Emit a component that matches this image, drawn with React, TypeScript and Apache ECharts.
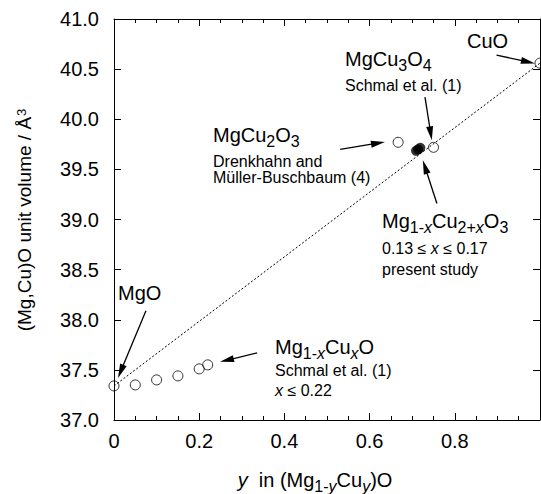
import React, { useEffect, useRef } from "react";
import * as echarts from "echarts";

const FF = "'Liberation Sans', Arial, Helvetica, sans-serif";

// Mg(1-x)Cu(x)O, Schmal et al.
const rockSaltX = [0, 0.05, 0.1, 0.15, 0.2, 0.22];
const rockSaltY = [37.34, 37.35, 37.4, 37.44, 37.51, 37.55];
// other open-circle compounds: MgCu2O3, MgCu3O4, CuO
const openX = [0.667, 0.75, 1.0];
const openY = [39.77, 39.72, 40.56];
// present study, Mg(1-x)Cu(2+x)O3 (filled)
const presentX = [0.709, 0.714, 0.719];
const presentY = [39.685, 39.7, 39.715];
// Vegard's law line
const vegardX = [0, 1];
const vegardY = [37.34, 40.56];
// annotation arrows: tail x, tail y, tip x, tip y
const arrows = [
  [0.898, 40.64, 0.988, 40.557],
  [0.73, 40.22, 0.746, 39.79],
  [0.531, 39.7, 0.636, 39.773],
  [0.758, 39.16, 0.725, 39.59],
  [0.075, 38.09, 0.0094, 37.42],
  [0.336, 37.67, 0.249, 37.58],
];
const xTicks = { min: 0, max: 1, interval: 0.2 };
const yTicks = { min: 37, max: 41, interval: 0.5 };

const base = { verticalAlign: "top", fontFamily: FF, fill: "#000" };
const rich: any = {
  m: { ...base, fontSize: 20, lineHeight: 22 },
  i: { ...base, fontSize: 20, lineHeight: 22, fontStyle: "italic" },
  s: { ...base, fontSize: 16, lineHeight: 16, padding: [8, 0, 0, 0] },
  si: { ...base, fontSize: 16, lineHeight: 16, padding: [8, 0, 0, 0], fontStyle: "italic" },
  t: { ...base, fontSize: 16, lineHeight: 18 },
  ti: { ...base, fontSize: 16, lineHeight: 18, fontStyle: "italic" },
  y: { ...base, fontSize: 19, lineHeight: 21 },
  sup: { ...base, fontSize: 13, lineHeight: 13, padding: [0, 0, 0, 1] },
};

function label(text: string, x: number, y: number, extra: any = {}) {
  return {
    type: "text",
    x,
    y,
    silent: true,
    ...extra,
    style: {
      text,
      rich,
      fontFamily: FF,
      fontSize: 20,
      fill: "#000",
      align: extra.align || "left",
      verticalAlign: extra.verticalAlign || "top",
    },
  };
}

const annotations = [
  label("{m|CuO}", 467, 31),
  label("{m|MgCu}{s|3}{m|O}{s|4}", 345, 49),
  label("{t|Schmal et al. (1)}", 345, 77),
  label("{m|MgCu}{s|2}{m|O}{s|3}", 213, 125),
  label("{t|Drenkhahn and}", 213, 153),
  label("{t|Müller-Buschbaum (4)}", 213, 169),
  label("{m|Mg}{s|1-}{si|x}{m|Cu}{s|2+}{si|x}{m|O}{s|3}", 382, 211),
  label("{t|0.13 ≤ }{ti|x}{t| ≤ 0.17}", 382, 240),
  label("{t|present study}", 382, 261),
  label("{m|MgO}", 118, 283),
  label("{m|Mg}{s|1-}{si|x}{m|Cu}{si|x}{m|O}", 275, 337),
  label("{t|Schmal et al. (1)}", 275, 362),
  label("{ti|x}{t| ≤ 0.22}", 275, 382),
  label("{i|y}{m|  in (Mg}{s|1-}{si|y}{m|Cu}{si|y}{m|)O}", 315, 470, { align: "center" }),
  label("{y|(Mg,Cu)O unit volume / Å}{sup|3}", 25, 220, {
    align: "center",
    verticalAlign: "middle",
    rotation: Math.PI / 2,
  }),
];

const axisLineStyle = { color: "#000", width: 1 };

function xAxis(position: "bottom" | "top", showLabel: boolean) {
  return {
    type: "value",
    position,
    ...xTicks,
    axisLine: { show: true, onZero: false, lineStyle: axisLineStyle },
    axisTick: { show: true, inside: true, length: 7, lineStyle: { color: "#000", width: 1 } },
    minorTick: { show: true, splitNumber: 4, length: 4, lineStyle: { color: "#000", width: 1 } },
    axisLabel: {
      show: showLabel,
      fontSize: 20,
      color: "#000",
      fontFamily: FF,
      margin: 11,
      showMaxLabel: false,
    },
    splitLine: { show: false },
  };
}
function yAxis(position: "left" | "right", showLabel: boolean) {
  return {
    type: "value",
    position,
    ...yTicks,
    axisLine: { show: true, onZero: false, lineStyle: axisLineStyle },
    axisTick: { show: true, inside: true, length: 7, lineStyle: { color: "#000", width: 1 } },
    axisLabel: {
      show: showLabel,
      fontSize: 20,
      color: "#000",
      fontFamily: FF,
      margin: 15,
      formatter: (v: number) => v.toFixed(1),
    },
    splitLine: { show: false },
  };
}

export default function App() {
  const ref = useRef<HTMLDivElement>(null);
  useEffect(() => {
    if (!ref.current) return;
    const chart = echarts.init(ref.current, null, { renderer: "svg" });
    const openStyle = { color: "rgba(255,255,255,0)", borderColor: "#000", borderWidth: 1 };
    chart.setOption({
      animation: false,
      backgroundColor: "#fff",
      grid: { left: 114, right: 1, top: 19, bottom: 74 },
      xAxis: [xAxis("bottom", true), xAxis("top", false)],
      yAxis: [yAxis("left", true), yAxis("right", false)],
      series: [
        {
          type: "line",
          data: vegardX.map((x, i) => [x, vegardY[i]]),
          symbol: "none",
          lineStyle: { color: "#000", width: 1, type: [2, 2] },
          silent: true,
        },
        {
          type: "scatter",
          data: rockSaltX.map((x, i) => [x, rockSaltY[i]]),
          symbol: "circle",
          symbolSize: 10,
          itemStyle: openStyle,
        },
        {
          type: "scatter",
          data: openX.map((x, i) => [x, openY[i]]),
          symbol: "circle",
          symbolSize: 10,
          itemStyle: openStyle,
        },
        {
          type: "scatter",
          data: presentX.map((x, i) => [x, presentY[i]]),
          symbol: "circle",
          symbolSize: 10,
          itemStyle: { color: "#000" },
        },
        {
          type: "custom",
          data: arrows,
          encode: { x: [0, 2], y: [1, 3] },
          silent: true,
          renderItem: (params: any, api: any) => {
            const a = api.coord([api.value(0), api.value(1)]);
            const b = api.coord([api.value(2), api.value(3)]);
            const dx = b[0] - a[0];
            const dy = b[1] - a[1];
            const len = Math.hypot(dx, dy) || 1;
            const ux = dx / len;
            const uy = dy / len;
            const L = 14;
            const W = 3.5;
            const bp = [b[0] - ux * L, b[1] - uy * L];
            const p1 = [bp[0] - uy * W, bp[1] + ux * W];
            const p2 = [bp[0] + uy * W, bp[1] - ux * W];
            return {
              type: "group",
              children: [
                {
                  type: "line",
                  shape: { x1: a[0], y1: a[1], x2: bp[0] + ux * 2, y2: bp[1] + uy * 2 },
                  style: { stroke: "#000", lineWidth: 1.3 },
                },
                {
                  type: "polygon",
                  shape: { points: [b, p1, p2] },
                  style: { fill: "#000" },
                },
              ],
            };
          },
        },
      ],
      graphic: annotations,
    });
    return () => chart.dispose();
  }, []);
  return (
    <div
      ref={ref}
      style={{ position: "fixed", left: 0, top: 0, width: 541, height: 494 }}
    />
  );
}
